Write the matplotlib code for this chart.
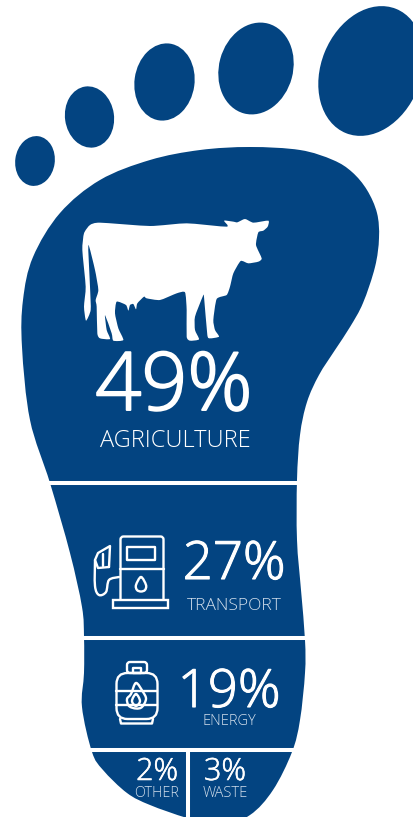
import numpy as np
import matplotlib
matplotlib.use("Agg")
import matplotlib.pyplot as plt
import matplotlib.patheffects as pe
from matplotlib.path import Path
from matplotlib.patches import PathPatch, Ellipse, FancyBboxPatch, Rectangle

# Emission shares by sector
sectors = ["AGRICULTURE", "TRANSPORT", "ENERGY", "OTHER", "WASTE"]
shares = [49, 27, 19, 2, 3]

BLUE = "#034481"
WHITE = "#ffffff"
SOFT = "#d3dfec"
FONT = "Open Sans"


def smooth(points, closed=True, k=1 / 6):
    """Closed or open Catmull-Rom curve through points, as a cubic Bezier path."""
    p = np.asarray(points, float)
    n = len(p)
    verts, codes = [p[0]], [Path.MOVETO]
    last = n if closed else n - 1
    for i in range(last):
        if closed:
            p0, p1, p2, p3 = p[(i - 1) % n], p[i], p[(i + 1) % n], p[(i + 2) % n]
        else:
            p0, p1, p2, p3 = p[max(i - 1, 0)], p[i], p[i + 1], p[min(i + 2, n - 1)]
        verts += [p1 + (p2 - p0) * k, p2 - (p3 - p1) * k, p2]
        codes += [Path.CURVE4] * 3
    return Path(verts, codes)


fig = plt.figure(figsize=(4.14, 8.17), dpi=100, facecolor="white")
ax = fig.add_axes([0, 0, 1, 1])
ax.set_xlim(0, 414)
ax.set_ylim(817, 0)
ax.axis("off")

# Toes, smallest to largest: centre, width, height, tilt
toes = [
    (35, 161, 39.5, 50, 8),
    (89.5, 117, 49, 61.5, -8),
    (164.5, 82, 60, 77.5, 8),
    (256, 68.5, 74, 93, 15),
    (371, 71, 100, 134, 22),
]
for cx, cy, w, h, a in toes:
    ax.add_patch(Ellipse((cx, cy), w, h, angle=a, fc=BLUE, ec="none"))

# Sole outline, clockwise from the top of the ball of the foot
sole = [
    (250, 147), (300, 150), (333, 160), (352, 172), (367, 190), (377, 213),
    (379, 238), (375, 267), (363, 303), (350, 327), (335, 350), (319, 375),
    (307, 402), (300, 435), (297, 480), (297, 540), (301, 590), (305, 640),
    (305, 673), (300, 720), (292, 752), (273, 790), (250, 815), (220, 826),
    (187, 818), (150, 805), (127, 793), (103, 770), (92, 752), (82, 707),
    (84, 673), (84, 637), (82, 607), (70, 553), (50, 483), (30, 420),
    (22, 347), (23, 300), (33, 257), (60, 213), (100, 180), (150, 160),
    (200, 150),
]
ax.add_patch(PathPatch(smooth(sole), fc=BLUE, ec="none"))

# Dividers between the sectors
ax.plot([40, 310], [482.5, 482.5], color=WHITE, lw=2.9, solid_capstyle="butt")
ax.plot([70, 315], [638, 638], color=WHITE, lw=2.9, solid_capstyle="butt")
ax.plot([75, 310], [749.5, 749.5], color=WHITE, lw=2.9, solid_capstyle="butt")
ax.plot([188.5, 188.5], [749.5, 830], color=WHITE, lw=2.9, solid_capstyle="butt")

# Cow silhouette
cow = np.array([
    (300, 668), (450, 678), (560, 670), (680, 680), (672, 662), (700, 665),
    (712, 667), (735, 657), (760, 668), (805, 662), (803, 680), (790, 692),
    (775, 697), (768, 735), (785, 775), (775, 785), (745, 790), (722, 783),
    (700, 820), (690, 860), (680, 885), (650, 897), (640, 960), (645, 990),
    (657, 1010), (630, 1015), (622, 1005), (612, 890), (608, 890), (585, 950),
    (585, 990), (597, 1018), (570, 1022), (560, 1010), (560, 930), (555, 877),
    (530, 880), (480, 900), (440, 895), (432, 890), (412, 910), (408, 928),
    (400, 912), (390, 915), (385, 932), (378, 915), (350, 905), (345, 940),
    (355, 985), (370, 1020), (340, 1022), (335, 1000), (315, 945), (320, 990),
    (330, 1017), (300, 1015), (292, 1000), (290, 920), (287, 900), (295, 870),
    (285, 810), (265, 735), (270, 860), (272, 930), (258, 962), (252, 920),
    (257, 860), (247, 750), (252, 700), (270, 675),
]) / 3
ax.add_patch(PathPatch(smooth(cow, k=1 / 10), fc=WHITE, ec="none"))

icon = dict(fc="none", ec=WHITE, lw=1.7, joinstyle="round", capstyle="round")
stroke = dict(color=WHITE, lw=1.7, solid_joinstyle="round", solid_capstyle="round")

# Fuel pump
ax.add_patch(FancyBboxPatch((120.5, 536.5), 43, 70, boxstyle="round,pad=0,rounding_size=3", **icon))
ax.add_patch(Rectangle((113, 599.5), 55, 8.5, fc=BLUE, ec=WHITE, lw=1.7))
ax.add_patch(Rectangle((127, 547), 28, 12.5, **icon))
ax.plot([120.5, 164], [569, 569], **stroke)
drop = [(141, 577), (146, 585), (145, 590), (141, 591.5), (137, 590), (136, 585)]
ax.add_patch(PathPatch(smooth(drop), **icon))
hose = [(95, 560), (95, 586), (99, 595), (106, 592), (109, 580), (119, 577)]
ax.add_patch(PathPatch(smooth(hose, closed=False), **icon))
nozzle = [(109, 567), (98, 568), (95, 560), (98, 553), (110, 546), (109, 567)]
ax.plot(*zip(*nozzle), **stroke)
ax.plot([103, 103], [554, 566], **stroke)

# Gas cylinder
ax.add_patch(FancyBboxPatch((116.5, 673), 41, 46, boxstyle="round,pad=0,rounding_size=11", **icon))
ax.add_patch(FancyBboxPatch((127, 662), 20, 11, boxstyle="round,pad=0,rounding_size=3", **icon))
ax.add_patch(Rectangle((133, 667.5), 8, 5.5, **icon))
ax.plot([120, 121, 152, 153], [719, 723.5, 723.5, 719], **stroke)
ax.plot([116.5, 157.5], [691, 691], **stroke)
ax.plot([116.5, 157.5], [705, 705], **stroke)
ax.add_patch(Ellipse((136, 698), 23, 19, fc=BLUE, ec="none"))
flame = [(136, 683), (143, 692), (146, 699), (142, 707), (136, 708.5), (129, 706), (127, 699), (131, 694)]
ax.add_patch(PathPatch(smooth(flame), **icon))
inner = [(136, 694), (140, 701), (136, 706), (132, 701)]
ax.add_patch(PathPatch(smooth(inner), **icon))

# Value and sector labels: share centre x/baseline/size/thickening, label centre x/baseline/size/colour
layout = {
    "AGRICULTURE": (174, 410, 58, 1.4, 175, 447, 17, WHITE),
    "TRANSPORT": (234, 579, 38, 0.8, 234, 610.5, 12.5, SOFT),
    "ENERGY": (229, 707, 38, 0.8, 229, 725, 10.5, SOFT),
    "OTHER": (157, 780, 22, 0.4, 157, 797, 10.3, SOFT),
    "WASTE": (225, 780, 22, 0.4, 225, 797, 10.6, SOFT),
}
for name, value in zip(sectors, shares):
    x, y, size, extra, lx, ly, lsize, col = layout[name]
    ax.text(x, y, f"{value}%", color=WHITE, fontsize=size, family=FONT,
            weight="light", ha="center", va="baseline",
            path_effects=[pe.withStroke(linewidth=extra, foreground=WHITE)])
    ax.text(lx, ly, name, color=col, fontsize=lsize, family=FONT,
            weight="light", ha="center", va="baseline")

fig.savefig("out.png", dpi=100, facecolor="white")
